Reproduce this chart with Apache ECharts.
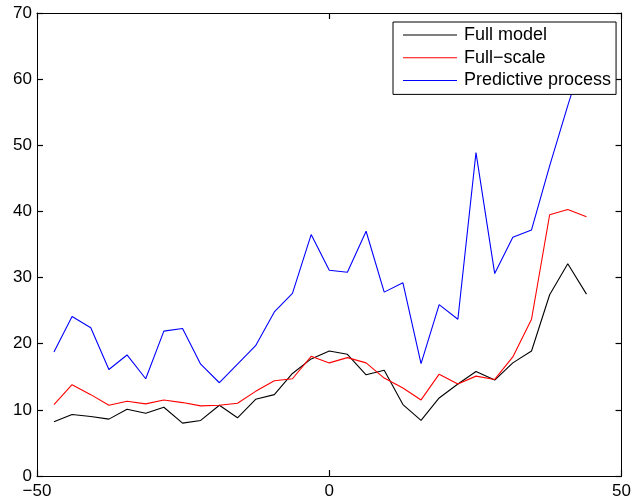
<!DOCTYPE html>
<html>
<head>
<meta charset="utf-8">
<script src="https://cdn.jsdelivr.net/npm/echarts@6/dist/echarts.min.js"></script>
<style>
  html, body { margin: 0; padding: 0; background: #fff; }
  #chart { width: 634px; height: 502px; }
</style>
</head>
<body>
<div id="chart"></div>
<script>
// Sample positions along the horizontal axis
const xValues = [-47.1, -44.0, -40.8, -37.7, -34.6, -31.4, -28.3, -25.1, -22.0, -18.8,
                 -15.7, -12.6, -9.4, -6.3, -3.1, 0, 3.1, 6.3, 9.4, 12.6,
                 15.7, 18.8, 22.0, 25.1, 28.3, 31.4, 34.6, 37.7, 40.8, 44.0];

const fullModel = [8.2, 9.3, 9.0, 8.6, 10.1, 9.5, 10.4, 8.0, 8.4, 10.7,
                   8.8, 11.6, 12.3, 15.5, 17.7, 18.9, 18.4, 15.3, 16.0, 10.8,
                   8.4, 11.8, 13.9, 15.8, 14.5, 17.1, 18.9, 27.4, 32.1, 27.5];

const fullScale = [10.8, 13.8, 12.3, 10.7, 11.3, 10.9, 11.5, 11.1, 10.6, 10.7,
                   11.0, 12.8, 14.4, 14.7, 18.1, 17.1, 17.9, 17.1, 14.8, 13.3,
                   11.5, 15.4, 13.9, 15.1, 14.6, 18.0, 23.7, 39.5, 40.3, 39.2];

const predictive = [18.75, 24.1, 22.4, 16.1, 18.3, 14.7, 21.9, 22.3, 16.9, 14.1,
                    16.9, 19.7, 24.8, 27.6, 36.5, 31.1, 30.8, 37.0, 27.8, 29.2,
                    17.0, 25.9, 23.7, 48.9, 30.6, 36.1, 37.2, 46.9, 56.0, 65.0];

const seriesNames = ['Full model', 'Full\u2212scale', 'Predictive process'];
const seriesColors = ['#000000', '#ff0000', '#0000ff'];

const xRange = [-50, 50];
const xStep = 50;
const yRange = [0, 70];
const yStep = 10;

const FONT = '"Liberation Sans", Arial, Helvetica, sans-serif';
const minusFmt = v => String(v).replace('-', '\u2212');

const pair = ys => xValues.map((x, i) => [x, ys[i]]);

const axisLine = { show: true, onZero: false, lineStyle: { color: '#000', width: 1 } };
const axisTick = { show: true, inside: true, length: 6, lineStyle: { color: '#000', width: 1.2 } };

const chart = echarts.init(document.getElementById('chart'), null, { renderer: 'canvas' });

chart.setOption({
  animation: false,
  backgroundColor: '#fff',
  grid: { left: 37, right: 10, top: 13, bottom: 26, containLabel: false },
  legend: {
    orient: 'vertical',
    left: 393,
    top: 22,
    padding: [4, 5, 5, 10],
    itemGap: 4.7,
    itemWidth: 54,
    itemHeight: 1,
    icon: 'rect',
    backgroundColor: '#fff',
    borderColor: '#000',
    borderWidth: 1,
    borderRadius: 0,
    z: 10,
    textStyle: {
      fontFamily: FONT, fontSize: 18, color: '#000',
      lineHeight: 18, padding: [0, 0, 0, 2]
    },
    data: seriesNames
  },
  xAxis: [
    {
      type: 'value', position: 'bottom',
      min: xRange[0], max: xRange[1], interval: xStep,
      axisLine, axisTick, splitLine: { show: false },
      axisLabel: { fontFamily: FONT, fontSize: 17, color: '#000', margin: 7, formatter: minusFmt }
    },
    {
      type: 'value', position: 'top',
      min: xRange[0], max: xRange[1], interval: xStep,
      axisLine, axisTick, splitLine: { show: false },
      axisLabel: { show: false }
    }
  ],
  yAxis: [
    {
      type: 'value', position: 'left',
      min: yRange[0], max: yRange[1], interval: yStep,
      axisLine, axisTick, splitLine: { show: false },
      axisLabel: { fontFamily: FONT, fontSize: 17, color: '#000', margin: 5, formatter: minusFmt }
    },
    {
      type: 'value', position: 'right',
      min: yRange[0], max: yRange[1], interval: yStep,
      axisLine, axisTick, splitLine: { show: false },
      axisLabel: { show: false }
    }
  ],
  series: [fullModel, fullScale, predictive].map((ys, i) => ({
    name: seriesNames[i],
    type: 'line',
    xAxisIndex: 0,
    yAxisIndex: 0,
    data: pair(ys),
    showSymbol: false,
    symbol: 'none',
    color: seriesColors[i],
    lineStyle: { color: seriesColors[i], width: 1.1 },
    clip: true
  }))
});
</script>
</body>
</html>
